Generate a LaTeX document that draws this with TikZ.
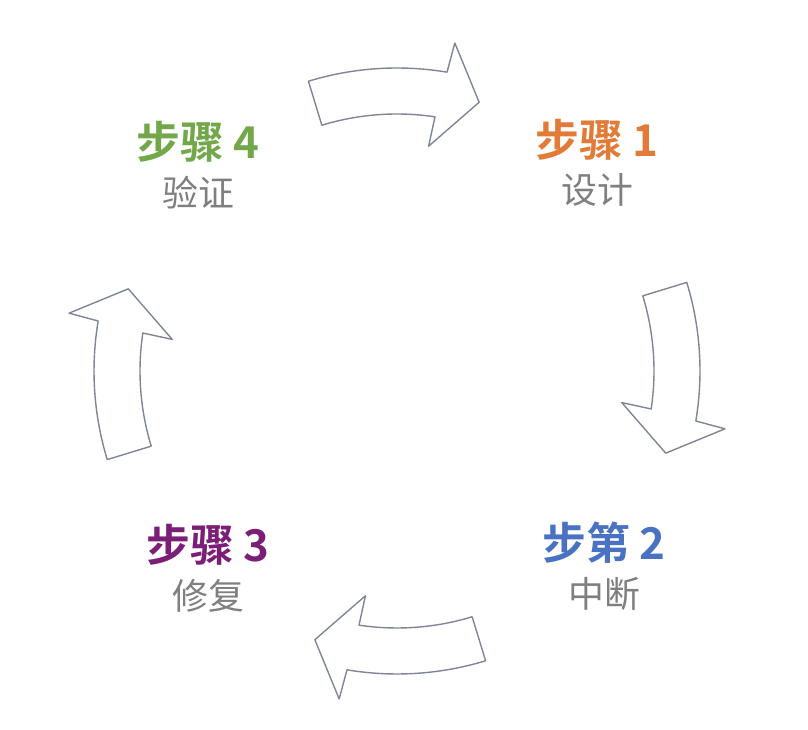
\documentclass[tikz,border=0pt]{standalone}
\usepackage{fontspec}
\newfontfamily\cjk{Noto Sans CJK SC}[BoldFont={Noto Sans CJK SC Bold}]
\usetikzlibrary{positioning}
\definecolor{steporange}{HTML}{E37B38}
\definecolor{stepblue}{HTML}{4A72C2}
\definecolor{steppurple}{HTML}{7A1E78}
\definecolor{stepgreen}{HTML}{72A84A}
\definecolor{subgray}{HTML}{7F7F7F}
\definecolor{arrowgray}{HTML}{7E8696}

\begin{document}
\begin{tikzpicture}[
  x=1bp, y=1bp,
  steptitle/.style={font=\cjk\bfseries\fontsize{44}{46}\selectfont, inner sep=0pt},
  stepsub/.style={font=\cjk\fontsize{36}{38}\selectfont, text=subgray, inner sep=0pt},
  cyclearrow/.style={draw=arrowgray, fill=white, line width=1.4bp, line join=round}
]
  \useasboundingbox (0,0) rectangle (808,730);
  \coordinate (ctr) at (397,359);
  % curved arrows, one per quarter
  \foreach \r in {0,90,180,270}{
    \begin{scope}[shift={(ctr)}, rotate=-\r]
      \draw[cyclearrow] (107:303) arc[start angle=107, end angle=80.5, radius=303]
        -- (80:333) -- (73:281) -- (82:227) -- (81.5:257)
        arc[start angle=81.5, end angle=107, radius=257] -- cycle;
    \end{scope}
  }
  \node[steptitle, text=steporange] (t1) at (597,590) {步骤 1};
  \node[stepsub, below=13bp of t1] (s1) {设计};
  \node[steptitle, text=stepblue] (t2) at (604,187) {步第 2};
  \node[stepsub, below=13bp of t2] (s2) {中断};
  \node[steptitle, text=steppurple] (t3) at (208,185) {步骤 3};
  \node[stepsub, below=13bp of t3] (s3) {修复};
  \node[steptitle, text=stepgreen] (t4) at (198,588) {步骤 4};
  \node[stepsub, below=13bp of t4] (s4) {验证};
\end{tikzpicture}
\end{document}
